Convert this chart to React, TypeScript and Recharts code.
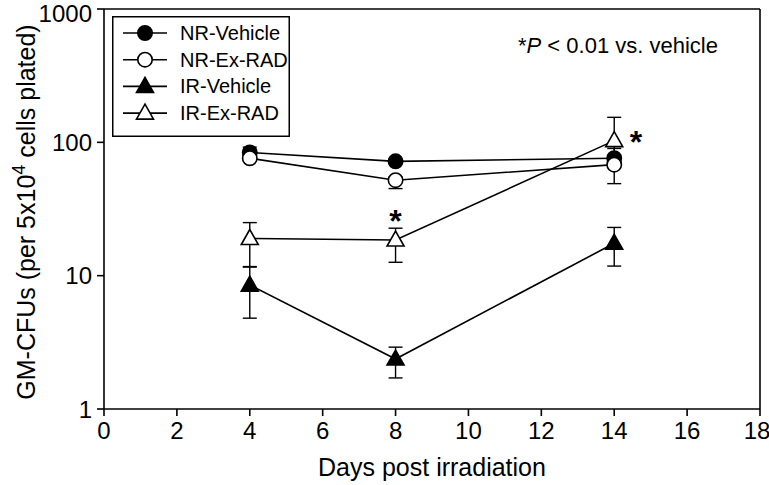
import React from "react";
import {
  ComposedChart,
  Line,
  XAxis,
  YAxis,
  ErrorBar,
  ReferenceDot,
  ReferenceLine,
} from "recharts";

// days post irradiation
const days = [4, 8, 14];

// GM-CFU means
const nrVehicle = [84, 72, 76];
const nrExRad = [76, 52, 68];
const irVehicle = [8.5, 2.37, 17.5];
const irExRad = [19, 18.5, 103];

// error bar bounds (low / high)
const nrVehicleLow = [78, 69, 72];
const nrVehicleHigh = [92, 75, 80];
const nrExRadLow = [72, 45, 49];
const nrExRadHigh = [80, 55, 90];
const irVehicleLow = [4.8, 1.71, 11.8];
const irVehicleHigh = [11.7, 2.91, 23];
const irExRadLow = [11.6, 12.6, 75];
const irExRadHigh = [25, 22.7, 154];

const xTicks = [0, 2, 4, 6, 8, 10, 12, 14, 16, 18];
const yTicks = [1, 10, 100, 1000];

const FONT = "Arial, 'Liberation Sans', sans-serif";

type Shape = "circle" | "triangle";

function build(values: number[], low: number[], high: number[]) {
  return days.map((d, i) => ({
    day: d,
    value: values[i],
    err: [values[i] - low[i], high[i] - values[i]],
  }));
}

const series = [
  { name: "NR-Vehicle", shape: "circle" as Shape, filled: true, data: build(nrVehicle, nrVehicleLow, nrVehicleHigh) },
  { name: "NR-Ex-RAD", shape: "circle" as Shape, filled: false, data: build(nrExRad, nrExRadLow, nrExRadHigh) },
  { name: "IR-Vehicle", shape: "triangle" as Shape, filled: true, data: build(irVehicle, irVehicleLow, irVehicleHigh) },
  { name: "IR-Ex-RAD", shape: "triangle" as Shape, filled: false, data: build(irExRad, irExRadLow, irExRadHigh) },
];

function Marker({ cx, cy, shape, filled }: { cx: number; cy: number; shape: Shape; filled: boolean }) {
  const fill = filled ? "#000" : "#fff";
  if (shape === "circle") {
    return <circle cx={cx} cy={cy} r={7.2} fill={fill} stroke="#000" strokeWidth={1.6} />;
  }
  const h = 15;
  const w = 17;
  return (
    <polygon
      points={`${cx},${cy - h * 0.6} ${cx - w / 2},${cy + h * 0.4} ${cx + w / 2},${cy + h * 0.4}`}
      fill={fill}
      stroke="#000"
      strokeWidth={1.6}
    />
  );
}

function LegendBox() {
  return (
    <svg width={178} height={121} style={{ position: "absolute", left: 112, top: 16 }}>
      <rect x={0.75} y={0.75} width={176.5} height={119.5} fill="#fff" stroke="#000" strokeWidth={1.5} />
      {series.map((s, i) => {
        const y = 17 + i * 26.7;
        return (
          <g key={s.name}>
            <line x1={11} x2={55} y1={y} y2={y} stroke="#000" strokeWidth={1.6} />
            <Marker cx={33} cy={y} shape={s.shape} filled={s.filled} />
            <text x={68} y={y + 7} fontSize={20} fontFamily={FONT} fill="#000">
              {s.name}
            </text>
          </g>
        );
      })}
    </svg>
  );
}

const starLabel = { value: "*", position: "center" as const, fontSize: 32, fontWeight: "bold", fill: "#000", fontFamily: FONT, dy: 9 };

export default function App() {
  return (
    <div style={{ position: "absolute", left: 0, top: 0, width: 769, height: 485, background: "#fff" }}>
      <ComposedChart width={769} height={485} margin={{ top: 9, right: 9, left: 0, bottom: 0 }}>
        <XAxis
          type="number"
          dataKey="day"
          domain={[0, 18]}
          ticks={xTicks}
          allowDuplicatedCategory={false}
          height={76}
          tick={{ fontSize: 24, fill: "#000", fontFamily: FONT, dy: 4 }}
          tickSize={7}
          stroke="#000"
          strokeWidth={1.6}
          tickLine={{ stroke: "#000", strokeWidth: 1.6 }}
        />
        <YAxis
          type="number"
          scale="log"
          domain={[1, 1000]}
          ticks={yTicks}
          allowDataOverflow
          width={104}
          tick={{ fontSize: 24, fill: "#000", fontFamily: FONT, dx: -3 }}
          tickSize={7}
          stroke="#000"
          strokeWidth={1.6}
          tickLine={{ stroke: "#000", strokeWidth: 1.6 }}
        />
        <ReferenceLine y={1000} stroke="#000" strokeWidth={1.6} />
        <ReferenceLine x={18} stroke="#000" strokeWidth={1.6} />
        {series.map((s) => (
          <Line
            key={s.name}
            data={s.data}
            dataKey="value"
            name={s.name}
            type="linear"
            stroke="#000"
            strokeWidth={1.6}
            isAnimationActive={false}
            dot={(p: any) => (
              <Marker key={`${s.name}-${p.index}`} cx={p.cx} cy={p.cy} shape={s.shape} filled={s.filled} />
            )}
            activeDot={false}
          >
            <ErrorBar dataKey="err" width={7} stroke="#000" strokeWidth={1.4} direction="y" />
          </Line>
        ))}
        <ReferenceDot x={8} y={30} r={0} label={starLabel} />
        <ReferenceDot x={14.6} y={119} r={0} label={starLabel} />
      </ComposedChart>
      <LegendBox />
      <svg width={769} height={485} style={{ position: "absolute", left: 0, top: 0, pointerEvents: "none" }}>
        <text
          transform="translate(35, 212) rotate(-90)"
          textAnchor="middle"
          fontSize={25}
          fontFamily={FONT}
          fill="#000"
        >
          GM-CFUs (per 5x10
          <tspan dy={-10} fontSize={18}>4</tspan>
          <tspan dy={10}> cells plated)</tspan>
        </text>
        <text x={432} y={476} textAnchor="middle" fontSize={25} fontFamily={FONT} fill="#000">
          Days post irradiation
        </text>
        <text x={518} y={53} fontSize={22} fontFamily={FONT} fill="#000">
          *<tspan fontStyle="italic">P</tspan> &lt; 0.01 vs. vehicle
        </text>
      </svg>
    </div>
  );
}
